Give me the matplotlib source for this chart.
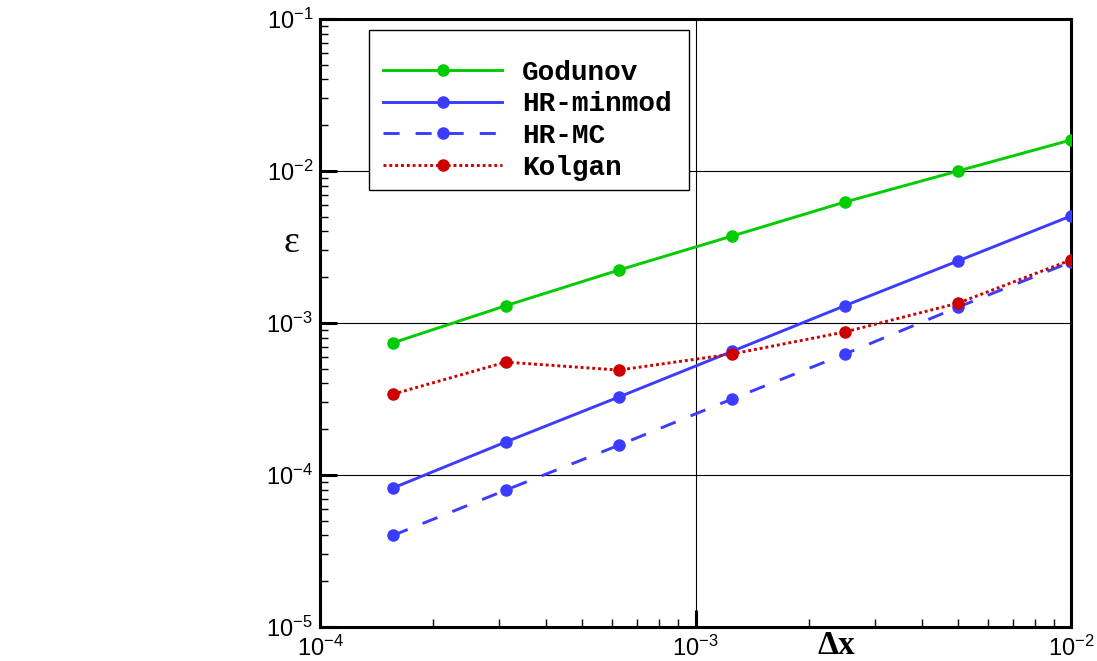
import matplotlib
matplotlib.use("Agg")
import matplotlib.pyplot as plt
from matplotlib.patches import Rectangle
from matplotlib.ticker import LogLocator, FixedLocator

plt.rcParams["mathtext.fontset"] = "custom"
plt.rcParams["mathtext.rm"] = "Liberation Sans"
plt.rcParams["mathtext.it"] = "Liberation Sans"
plt.rcParams["mathtext.bf"] = "Liberation Sans:bold"

dx = [0.00015625, 0.0003125, 0.000625, 0.00125, 0.0025, 0.005, 0.01]

godunov = [0.00074, 0.0013, 0.00223, 0.00373, 0.00625, 0.0100, 0.0160]
hr_minmod = [8.2e-5, 1.65e-4, 3.26e-4, 6.5e-4, 1.3e-3, 2.56e-3, 5.06e-3]
hr_mc = [4.0e-5, 7.96e-5, 1.57e-4, 3.16e-4, 6.25e-4, 1.27e-3, 2.52e-3]
kolgan = [3.4e-4, 5.53e-4, 4.9e-4, 6.25e-4, 8.73e-4, 1.35e-3, 2.6e-3]

W, H = 1097, 661
fig = plt.figure(figsize=(W / 100, H / 100), dpi=100)
ax = fig.add_axes([320/W, 1 - 627/H, 751/W, 608/H])

ms = 8
lw = 2.1
ax.plot(dx, godunov, color="#00cc00", lw=lw, marker="o", ms=ms, label="Godunov", zorder=3)
ax.plot(dx, hr_minmod, color="#3c3cff", lw=lw, marker="o", ms=ms, label="HR-minmod", zorder=3)
ax.plot(dx, hr_mc, color="#3c3cff", lw=lw, marker="o", ms=ms, dashes=(5.5, 5.5), label="HR-MC", zorder=3)
ax.plot(dx, kolgan, color="#cc0000", lw=lw, marker="o", ms=ms, dashes=(1, 1), label="Kolgan", zorder=3)

ax.set_xscale("log")
ax.set_yscale("log")
ax.set_xlim(1e-4, 1e-2)
ax.set_ylim(1e-5, 1e-1)

ax.xaxis.set_major_locator(FixedLocator([1e-4, 1e-3, 1e-2]))
ax.yaxis.set_major_locator(FixedLocator([1e-5, 1e-4, 1e-3, 1e-2, 1e-1]))
ax.xaxis.set_minor_locator(LogLocator(base=10, subs=range(2, 10)))
ax.yaxis.set_minor_locator(LogLocator(base=10, subs=range(2, 10)))
ax.set_xticklabels(["$10^{-4}$", "$10^{-3}$", "$10^{-2}$"])
ax.set_yticklabels(["$10^{-5}$", "$10^{-4}$", "$10^{-3}$", "$10^{-2}$", "$10^{-1}$"])

ax.tick_params(which="major", direction="in", length=12, width=2.2, labelsize=17, pad=5)
ax.tick_params(axis="x", which="major", pad=6)
ax.tick_params(which="minor", direction="in", length=6, width=1)
ax.tick_params(top=False, right=False)

for s in ax.spines.values():
    s.set_linewidth(2.2)

ax.grid(True, which="major", color="black", lw=0.8)
ax.set_axisbelow(True)

# axis titles
fig.text(836/W, 1 - 645/H, "Δx", fontsize=24, fontweight="bold",
         family="Liberation Serif", ha="center", va="center")
fig.text(291/W, 1 - 243/H, "ε", fontsize=27,
         family="Liberation Serif", ha="center", va="center")

# legend box drawn separately (more room above first entry)
box = Rectangle((369/W, 1 - 190/H), 320/W, 160/H, transform=fig.transFigure,
                facecolor="white", edgecolor="black", lw=1.0, zorder=4)
fig.patches.append(box)

leg = fig.legend(*ax.get_legend_handles_labels(), loc="upper left",
                 bbox_to_anchor=(369/W, 1 - 46/H), frameon=False,
                 prop={"family": "Liberation Mono", "weight": "bold", "size": 20},
                 handlelength=4.3, handletextpad=0.7, labelspacing=0.2,
                 borderpad=0.5, borderaxespad=0)
leg.set_zorder(5)

fig.savefig("out.png", dpi=100)
